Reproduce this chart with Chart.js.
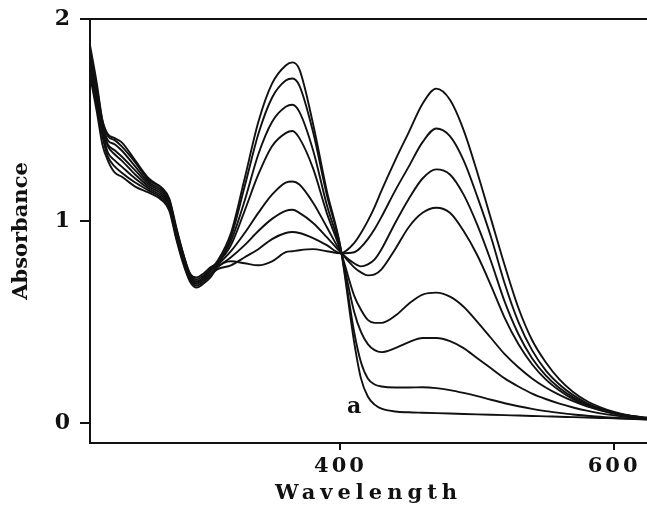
<!DOCTYPE html>
<html>
<head>
<meta charset="utf-8">
<script src="https://cdn.jsdelivr.net/npm/chart.js@4.4.1/dist/chart.umd.min.js"></script>
<style>
  html, body { margin: 0; padding: 0; background: #fff; }
  #wrap { width: 647px; height: 506px; }
</style>
</head>
<body>
<div id="wrap"><canvas id="spectra"></canvas></div>
<script>
// wavelength grid (nm) shared by all spectra
const wavelength = [217, 222, 226, 230, 235, 240, 250, 260, 270, 275, 280, 285, 290, 295, 300, 305, 310,
  320, 330, 340, 350, 360, 365, 370, 380, 390, 400,
  410, 415, 420, 425, 430,
  440, 450, 460, 470, 480, 490, 500, 510, 520, 530, 540, 550, 560, 570, 580, 590, 600, 610, 624];

// spectrum "a" (top band near 360, nothing at 470)
const curveA = [1.87, 1.68, 1.50, 1.42, 1.40, 1.37, 1.29, 1.20, 1.16, 1.10, 0.96, 0.83, 0.72, 0.69, 0.72, 0.76, 0.80,
  0.94, 1.21, 1.49, 1.68, 1.77, 1.785, 1.75, 1.48, 1.15, 0.87,
  0.40, 0.22, 0.13, 0.09, 0.07,
  0.056, 0.052, 0.050, 0.048, 0.046, 0.044, 0.042, 0.040, 0.038, 0.036, 0.034, 0.032, 0.030, 0.028, 0.026, 0.024, 0.022, 0.020, 0.016];
const curveB = [1.85, 1.66, 1.50, 1.43, 1.41, 1.39, 1.30, 1.21, 1.16, 1.11, 0.97, 0.84, 0.73, 0.70, 0.72, 0.76, 0.79,
  0.92, 1.17, 1.43, 1.61, 1.695, 1.705, 1.67, 1.44, 1.13, 0.87,
  0.45, 0.30, 0.22, 0.19, 0.18,
  0.175, 0.175, 0.176, 0.172, 0.162, 0.148, 0.132, 0.114, 0.097, 0.082, 0.069, 0.058, 0.049, 0.041, 0.035, 0.030, 0.025, 0.021, 0.017];
const curveC = [1.83, 1.64, 1.48, 1.40, 1.38, 1.35, 1.27, 1.19, 1.15, 1.10, 0.96, 0.84, 0.74, 0.71, 0.73, 0.76, 0.79,
  0.90, 1.10, 1.33, 1.49, 1.565, 1.575, 1.54, 1.35, 1.08, 0.86,
  0.55, 0.45, 0.39, 0.36, 0.35,
  0.37, 0.40, 0.42, 0.42, 0.405, 0.37, 0.32, 0.27, 0.22, 0.18, 0.145, 0.118, 0.095, 0.076, 0.060, 0.047, 0.037, 0.029, 0.021];
const curveD = [1.80, 1.62, 1.47, 1.38, 1.35, 1.32, 1.25, 1.18, 1.14, 1.09, 0.95, 0.83, 0.74, 0.72, 0.74, 0.77, 0.79,
  0.88, 1.05, 1.23, 1.37, 1.435, 1.445, 1.41, 1.26, 1.04, 0.855,
  0.63, 0.56, 0.51, 0.495, 0.495,
  0.53, 0.59, 0.635, 0.645, 0.625, 0.575, 0.50, 0.42, 0.34, 0.275, 0.22, 0.175, 0.138, 0.107, 0.082, 0.063, 0.048, 0.037, 0.026];
const curveE = [1.78, 1.60, 1.46, 1.37, 1.33, 1.30, 1.23, 1.17, 1.13, 1.08, 0.94, 0.82, 0.73, 0.70, 0.72, 0.75, 0.78,
  0.85, 0.94, 1.04, 1.13, 1.19, 1.195, 1.18, 1.09, 0.97, 0.85,
  0.77, 0.745, 0.73, 0.735, 0.76,
  0.86, 0.97, 1.04, 1.065, 1.04, 0.95, 0.83, 0.68, 0.52, 0.39, 0.29, 0.215, 0.16, 0.117, 0.085, 0.062, 0.045, 0.033, 0.022];
const curveF = [1.76, 1.58, 1.44, 1.34, 1.30, 1.27, 1.21, 1.16, 1.12, 1.07, 0.93, 0.81, 0.72, 0.69, 0.71, 0.74, 0.77,
  0.82, 0.88, 0.95, 1.01, 1.05, 1.055, 1.04, 0.99, 0.92, 0.845,
  0.79, 0.775, 0.785, 0.81, 0.86,
  0.99, 1.11, 1.21, 1.255, 1.23, 1.13, 0.98, 0.80, 0.60, 0.44, 0.32, 0.235, 0.172, 0.126, 0.091, 0.066, 0.048, 0.035, 0.023];
const curveG = [1.74, 1.56, 1.42, 1.32, 1.27, 1.24, 1.19, 1.15, 1.11, 1.06, 0.92, 0.80, 0.71, 0.68, 0.70, 0.73, 0.76,
  0.78, 0.82, 0.86, 0.91, 0.94, 0.945, 0.94, 0.915, 0.88, 0.84,
  0.845, 0.87, 0.91, 0.96, 1.02,
  1.15, 1.27, 1.39, 1.458, 1.42, 1.30, 1.12, 0.92, 0.69, 0.50, 0.36, 0.26, 0.19, 0.137, 0.098, 0.070, 0.050, 0.036, 0.023];
const curveH = [1.72, 1.54, 1.38, 1.30, 1.24, 1.22, 1.17, 1.14, 1.10, 1.05, 0.91, 0.79, 0.70, 0.67, 0.69, 0.72, 0.77,
  0.80, 0.79, 0.78, 0.80, 0.845, 0.85, 0.855, 0.86, 0.85, 0.84,
  0.89, 0.94, 1.00, 1.07, 1.15,
  1.30, 1.44, 1.58, 1.655, 1.60, 1.45, 1.24, 1.01, 0.78, 0.57, 0.41, 0.30, 0.215, 0.153, 0.108, 0.077, 0.054, 0.038, 0.024];

const spectra = [curveA, curveB, curveC, curveD, curveE, curveF, curveG, curveH];

const xTicks = [400, 600];
const yTicks = [0, 1, 2];
const curveLabel = { text: 'a', x: 410, y: 0.075 };

const serif = "'DejaVu Serif', 'Liberation Serif', serif";
const ink = '#111';

// x axis text in the original is widely spaced, so spread the letters
const spacedXAxis = {
    id: 'spacedXAxis',
    beforeDraw(chart) {
        const sc = chart.scales.x;
        if (sc._spaced) return;
        const labels = sc.drawLabels;
        const title = sc.drawTitle;
        sc.drawLabels = function(area) {
            chart.ctx.save();
            chart.ctx.letterSpacing = '3px';
            labels.call(this, area);
            chart.ctx.restore();
        };
        sc.drawTitle = function() {
            chart.ctx.save();
            chart.ctx.letterSpacing = '5px';
            title.call(this);
            chart.ctx.restore();
        };
        sc._spaced = true;
    }
};

// the little "a" marking the first spectrum
const labelCurve = {
    id: 'labelCurve',
    afterDatasetsDraw(chart) {
        const { ctx, scales } = chart;
        ctx.save();
        ctx.font = 'bold 22px ' + serif;
        ctx.fillStyle = ink;
        ctx.textAlign = 'center';
        ctx.textBaseline = 'middle';
        ctx.fillText(curveLabel.text, scales.x.getPixelForValue(curveLabel.x), scales.y.getPixelForValue(curveLabel.y));
        ctx.restore();
    }
};

const datasets = spectra.map(values => ({
    data: wavelength.map((w, i) => ({ x: w, y: values[i] })),
    borderColor: ink,
    borderWidth: 1.9,
    pointRadius: 0,
    fill: false,
    cubicInterpolationMode: 'monotone'
}));

new Chart(document.getElementById('spectra'), {
    type: 'line',
    data: { datasets },
    options: {
        responsive: true,
        maintainAspectRatio: false,
        animation: false,
        layout: { padding: { top: 19, right: 0, bottom: 0, left: 0 } },
        plugins: { legend: { display: false }, tooltip: { enabled: false } },
        scales: {
            x: {
                type: 'linear',
                min: 217,
                max: 624,
                afterBuildTicks: s => { s.ticks = xTicks.map(v => ({ value: v })); },
                afterFit: s => { s.height = 63; s.paddingLeft = 0; s.paddingRight = 0; },
                grid: { drawOnChartArea: false, tickLength: 7, color: ink, lineWidth: 2 },
                border: { color: ink, width: 2 },
                ticks: { color: ink, padding: 4, maxRotation: 0, font: { family: serif, size: 21, weight: 'bold' } },
                title: { display: true, text: 'Wavelength', color: ink, padding: { top: 0, bottom: 0 },
                         font: { family: serif, size: 21, weight: 'bold' } }
            },
            xTop: {
                type: 'linear',
                position: 'top',
                min: 217,
                max: 624,
                afterBuildTicks: s => { s.ticks = []; },
                afterFit: s => { s.height = 0; s.paddingLeft = 0; s.paddingRight = 0; },
                grid: { display: false },
                border: { display: true, color: ink, width: 2 },
                ticks: { display: false }
            },
            y: {
                min: -0.1,
                max: 2,
                afterBuildTicks: s => { s.ticks = yTicks.map(v => ({ value: v })); },
                afterFit: s => { s.width = 90; s.paddingTop = 0; s.paddingBottom = 0; },
                grid: { drawOnChartArea: false, tickLength: 10, color: ink, lineWidth: 2 },
                border: { color: ink, width: 2 },
                ticks: { color: ink, padding: 10, font: { family: serif, size: 22, weight: 'bold' } },
                title: { display: true, text: 'Absorbance', color: ink, padding: { top: 9, bottom: 0 },
                         font: { family: serif, size: 21, weight: 'bold' } }
            }
        }
    },
    plugins: [spacedXAxis, labelCurve]
});
</script>
</body>
</html>
